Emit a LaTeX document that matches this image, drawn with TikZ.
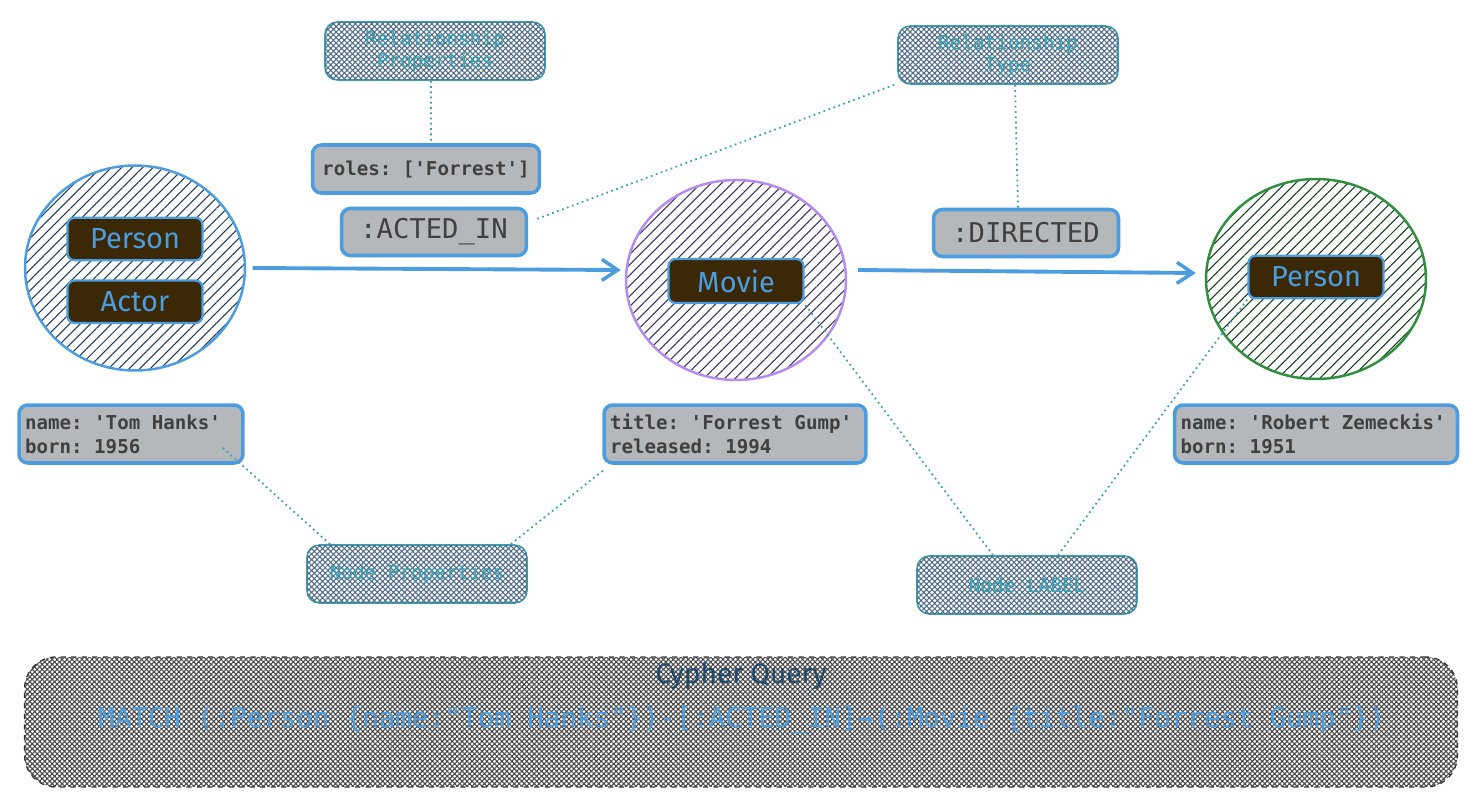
\documentclass[tikz,border=0pt]{standalone}
\usepackage{fontspec}
\usepackage{tikz}
\usepackage{xcolor}
\usetikzlibrary{positioning, arrows.meta, patterns.meta}
\usetikzlibrary{shapes.geometric}

\newfontfamily\codefont{DejaVu Sans Mono}
\newfontfamily\handfont{Fira Sans}
\newcommand{\fixmonospace}{\fontdimen2\font=0.602em\fontdimen3\font=0pt\fontdimen4\font=0pt\relax}
\frenchspacing

\definecolor{relblue}{HTML}{4C9DE0}
\definecolor{propgray}{HTML}{B5B8BB}
\definecolor{proptext}{HTML}{404040}
\definecolor{lblbrown}{HTML}{3A2806}
\definecolor{noteteal}{HTML}{3AA0B2}
\definecolor{noteslate}{HTML}{4F6B88}
\definecolor{moviepurple}{HTML}{B48CF0}
\definecolor{moviehatch}{HTML}{3A2E5A}
\definecolor{persongreen}{HTML}{2F8F3F}
\definecolor{personhatch}{HTML}{123A18}
\definecolor{actorhatch}{HTML}{1E3A58}
\definecolor{querynavy}{HTML}{1E4A6E}

\begin{document}
\begin{tikzpicture}[
            x=0.02cm, y=-0.02cm,
            graphnode/.style={ellipse, line width=1.4pt, minimum width=4.4cm, minimum height=4cm},
            nodelbl/.style={rounded corners=4pt, draw=relblue, line width=1.3pt, fill=lblbrown,
                text=relblue, font=\handfont\fontsize{16.5}{18}\selectfont, minimum width=2.7cm, minimum height=0.85cm},
            propbox/.style={rounded corners=5pt, draw=relblue, line width=2pt, fill=propgray, text=proptext,
                font=\codefont\bfseries\fontsize{10.9}{13.6}\selectfont\fixmonospace, align=left, inner xsep=0.12cm,
                minimum height=1.16cm, execute at begin node={\spaceskip=0pt\xspaceskip=0pt}},
            relbox/.style={rounded corners=5pt, draw=relblue, line width=2pt, fill=propgray, text=proptext,
                font=\codefont\fontsize{15.5}{18}\selectfont, minimum width=3.7cm, minimum height=0.94cm},
            notebox/.style={rounded corners=7pt, draw=noteteal, line width=0.9pt, fill=white,
                postaction={pattern={Hatch[angle=45,distance=2.2pt,line width=0.6pt]}, pattern color=noteslate},
                text=noteteal, font=\codefont\fontsize{11}{12.5}\selectfont\fixmonospace, align=center,
                minimum width=4.4cm, minimum height=1.16cm, execute at begin node={\spaceskip=0pt\xspaceskip=0pt}},
            notelink/.style={noteteal, dotted, line width=1pt},
            relarrow/.style={relblue, line width=2.2pt, -{Straight Barb[length=9pt,width=12pt,line width=2pt]}},
        ]
            \useasboundingbox (0,0) rectangle (1479,811);

            \node[graphnode, draw=relblue, pattern={Lines[angle=45,distance=4.2pt,line width=0.6pt]},
                pattern color=actorhatch, minimum height=4.1cm] (actor) at (135,268) {};
            \node[nodelbl] (actorlbl1) at (135,239) {Person};
            \node[nodelbl, below=0.36cm of actorlbl1] (actorlbl2) {Actor};

            \node[graphnode, draw=moviepurple, pattern={Lines[angle=45,distance=4.2pt,line width=0.6pt]},
                pattern color=moviehatch] (movie) at (736,280) {};
            \node[nodelbl, minimum height=0.88cm] (movielbl) at (736,281) {Movie};

            \node[graphnode, draw=persongreen, pattern={Lines[angle=45,distance=4.2pt,line width=0.6pt]},
                pattern color=personhatch] (director) at (1316,279) {};
            \node[nodelbl] (directorlbl) at (1316,277) {Person};

            \node[propbox, text width=4.24cm] (tomprops) at (131,434) {name: 'Tom Hanks'\\born: 1956};
            \node[propbox, text width=5.0cm] (movieprops) at (735,434) {title: 'Forrest Gump'\\released: 1994};
            \node[propbox, text width=5.42cm] (directorprops) at (1316,434) {name: 'Robert Zemeckis'\\born: 1951};

            \node[propbox, minimum width=4.54cm, minimum height=0.96cm] (roles) at (426,169) {roles: ['Forrest']};
            \node[relbox] (actedin) at (434,232) {:ACTED\_IN};
            \node[relbox] (directed) at (1026,233) {:DIRECTED};

            \draw[relarrow] ([xshift=0.14cm]actor.east) -- ([xshift=-0.08cm,yshift=0.2cm]movie.west);
            \draw[relarrow] ([xshift=0.22cm,yshift=0.2cm]movie.east) -- ([xshift=-0.18cm,yshift=0.12cm]director.west);

            \node[notebox] (relprops) at (435,51) {Relationship\\Properties};
            \node[notebox] (reltype) at (1008,55) {Relationship\\Type};
            \node[notebox] (nodeprops) at (417,574) {Node Properties};
            \node[notebox] (nodelabel) at (1027,585) {Node LABEL};

            \draw[notelink] ([xshift=-0.08cm]relprops.south) -- ([xshift=0.1cm]roles.north);
            \draw[notelink] ([xshift=-0.06cm]reltype.south west) -- ([xshift=0.12cm,yshift=0.24cm]actedin.east);
            \draw[notelink] ([xshift=0.14cm]reltype.south) -- ([xshift=-0.16cm]directed.north);
            \draw[notelink] ([xshift=-1.74cm]nodeprops.north) -- ([xshift=-0.46cm,yshift=0.36cm]tomprops.south east);
            \draw[notelink] ([xshift=-0.34cm]nodeprops.north east) -- ([xshift=0.06cm,yshift=-0.08cm]movieprops.south west);
            \draw[notelink] ([xshift=-0.68cm]nodelabel.north) -- (movielbl.south east);
            \draw[notelink] ([xshift=0.62cm]nodelabel.north) -- (directorlbl.south west);

            \node[rounded corners=18pt, draw=black!80, dashed, line width=0.8pt, fill=white,
                postaction={pattern={Hatch[angle=45,distance=2pt,line width=0.6pt]}, pattern color=black!72},
                minimum width=28.66cm, minimum height=2.6cm] (query) at (741,722) {};
            \node[below=0.0cm of query.north, text=querynavy, font=\handfont\fontsize{16}{18}\selectfont] (querytitle) {Cypher Query};
            \node[text=relblue, font=\codefont\fontsize{15.6}{18}\selectfont\fixmonospace] (querytext) at (742,720)
                {MATCH (:Person \{name:"Tom Hanks"\})-[:ACTED\_IN]→(:Movie \{title:"Forrest Gump"\})};
        \end{tikzpicture}
\end{document}
